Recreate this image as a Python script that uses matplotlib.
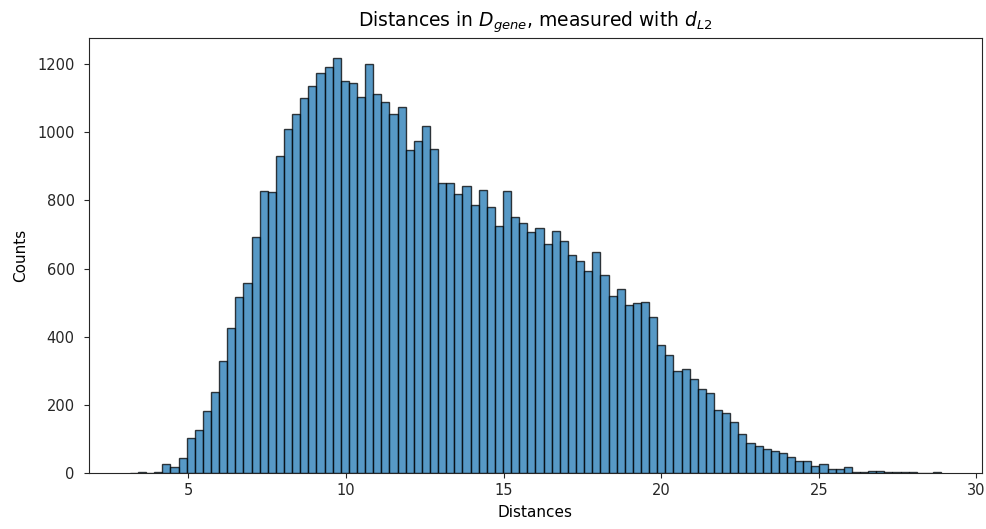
import numpy as np
import matplotlib
matplotlib.use("Agg")
import matplotlib.pyplot as plt

# Histogram of pairwise L2 distances: 100 equal-width bins
dist_min = 3.146
dist_max = 28.884
n_bins = 100

counts = [
    1, 4, 0, 4, 26, 17, 46, 103, 126, 182,
    239, 328, 427, 517, 558, 691, 827, 823, 931, 1008,
    1054, 1101, 1134, 1172, 1190, 1216, 1149, 1144, 1102, 1200,
    1111, 1088, 1054, 1072, 946, 974, 1017, 951, 851, 851,
    819, 842, 786, 831, 780, 724, 827, 752, 734, 707,
    720, 673, 710, 682, 639, 621, 592, 649, 582, 518,
    541, 493, 498, 502, 457, 376, 348, 300, 306, 276,
    248, 234, 184, 177, 150, 116, 89, 79, 71, 65,
    60, 48, 36, 36, 22, 27, 13, 13, 19, 4,
    4, 8, 8, 4, 4, 4, 4, 0, 0, 4,
]

edges = np.linspace(dist_min, dist_max, n_bins + 1)
centers = 0.5 * (edges[:-1] + edges[1:])

fig = plt.figure(figsize=(9.87, 5.29), dpi=100)
ax = fig.add_axes([0.0905, 0.1053, 0.9041, 0.8238])

ax.hist(centers, bins=edges, weights=counts, color="#1f77b4", alpha=0.75,
        edgecolor="black", linewidth=1.0)

ax.set_title(r"Distances in $D_{gene}$, measured with $d_{L2}$", fontsize=13.5, pad=8)
ax.set_xlabel("Distances", fontsize=11, labelpad=5)
ax.set_ylabel("Counts", fontsize=11, labelpad=7)
ax.tick_params(axis="both", labelsize=10.5, colors="#262626", labelcolor="#262626")
ax.tick_params(axis="y", pad=7)
for spine in ax.spines.values():
    spine.set_color("#262626")

fig.savefig("out.png", dpi=100)
